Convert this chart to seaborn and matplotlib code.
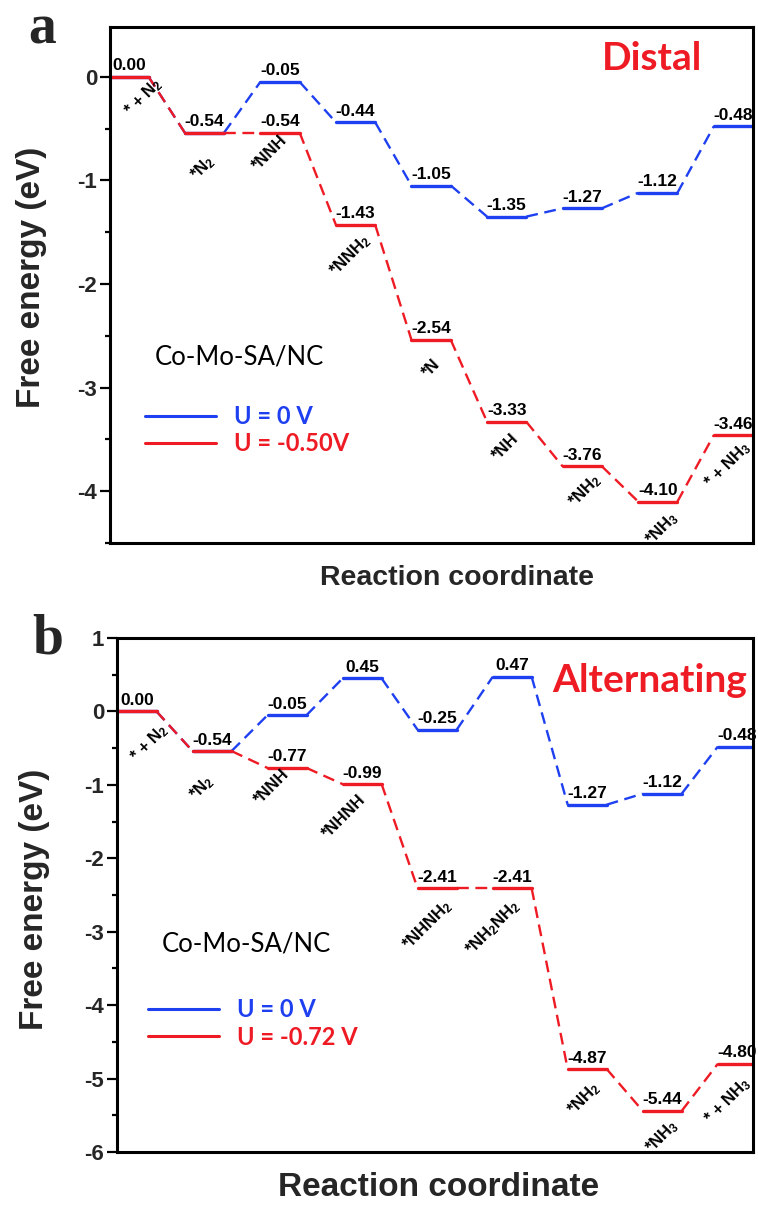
import numpy as np
import pandas as pd
import matplotlib
matplotlib.use("Agg")
import matplotlib.pyplot as plt
import seaborn as sns
from matplotlib.lines import Line2D
from matplotlib.ticker import MultipleLocator
from matplotlib.font_manager import FontProperties

# ---------------- data ----------------
distal_steps = ["* + N$_2$", "*N$_2$", "*NNH", "*NNH$_2$", "*N", "*NH",
                "*NH$_2$", "*NH$_3$", "* + NH$_3$"]
distal_u0 = [0.00, -0.54, -0.05, -0.44, -1.05, -1.35, -1.27, -1.12, -0.48]
distal_ul = [0.00, -0.54, -0.54, -1.43, -2.54, -3.33, -3.76, -4.10, -3.46]
distal_series = ["U = 0 V", "U = -0.50V"]

alt_steps = ["* + N$_2$", "*N$_2$", "*NNH", "*NHNH", "*NHNH$_2$",
             "*NH$_2$NH$_2$", "*NH$_2$", "*NH$_3$", "* + NH$_3$"]
alt_u0 = [0.00, -0.54, -0.05, 0.45, -0.25, 0.47, -1.27, -1.12, -0.48]
alt_ul = [0.00, -0.54, -0.77, -0.99, -2.41, -2.41, -4.87, -5.44, -4.80]
alt_series = ["U = 0 V", "U = -0.72 V"]

distal_ticks = [0, -1, -2, -3, -4]
alt_ticks = [1, 0, -1, -2, -3, -4, -5, -6]

BLUE = "#1e40f0"
RED = "#ee1b24"

# ---------------- style ----------------
sns.set_theme(style="ticks")
plt.rcParams["font.family"] = ["Liberation Sans", "DejaVu Sans"]
plt.rcParams["axes.unicode_minus"] = False
plt.rcParams["mathtext.default"] = "regular"

HW = 0.26
PX = 0.72  # points per pixel at dpi 100


def build_frames(values, series):
    lv, cn = [], []
    for i, v in enumerate(values):
        lv.append(dict(x=i - HW, G=v, series=series, seg=f"L{i}"))
        lv.append(dict(x=i + HW, G=v, series=series, seg=f"L{i}"))
        if i + 1 < len(values):
            cn.append(dict(x=i + HW, G=v, series=series, seg=f"C{i}"))
            cn.append(dict(x=i + 1 - HW, G=values[i + 1], series=series, seg=f"C{i}"))
    return lv, cn


def draw_panel(ax, steps, u0, ul, names, yticks, ylim, xlim, title, title_xy,
               name_xy, leg_xy, lab_off, xlabel_size, xlabel_x, ylabel_xy, xlabel_y):
    lv0, cn0 = build_frames(u0, names[0])
    lv1, cn1 = build_frames(ul, names[1])
    levels = pd.DataFrame(lv0 + lv1)
    conns = pd.DataFrame(cn0 + cn1)
    pal = {names[0]: BLUE, names[1]: RED}
    sns.lineplot(data=conns, x="x", y="G", hue="series", units="seg",
                 estimator=None, sort=False, palette=pal, hue_order=names,
                 lw=1.7, linestyle=(0, (5, 2.8)), legend=False, ax=ax)
    sns.lineplot(data=levels, x="x", y="G", hue="series", units="seg",
                 estimator=None, sort=False, palette=pal, hue_order=names,
                 lw=2.4, legend=False, ax=ax)

    # value labels
    for i, (a, b) in enumerate(zip(u0, ul)):
        vals = [b] if abs(a - b) < 1e-9 or i < 2 else [a, b]
        for v in vals:
            ax.annotate(f"{v:.2f}", xy=(i, v), xytext=(0, 2.5),
                        textcoords="offset points", ha="center", va="bottom",
                        fontsize=12.5, fontweight="bold", color="black")
    # species labels
    for i, (s, v) in enumerate(zip(steps, ul)):
        dx, dy = lab_off[i]
        ax.annotate(s, xy=(i + HW, v), xytext=(dx * PX, dy * PX),
                    textcoords="offset points", rotation=45,
                    rotation_mode="anchor", ha="right", va="top",
                    fontsize=12, fontweight="bold", color="black",
                    annotation_clip=False)

    ax.set_xlim(*xlim)
    ax.set_ylim(*ylim)
    ax.set_xticks([])
    ax.set_yticks(yticks)
    ax.yaxis.set_minor_locator(MultipleLocator(0.5))
    ax.tick_params(axis="y", which="major", direction="out", length=7.2,
                   width=1.6, pad=2, labelsize=16, color="black")
    ax.tick_params(axis="y", which="minor", direction="out", length=3.6,
                   width=1.6, color="black")
    for lab in ax.get_yticklabels():
        lab.set_fontweight("bold")
    for sp in ax.spines.values():
        sp.set_visible(True)
        sp.set_linewidth(2.2)
        sp.set_color("black")
    ax.set_xlabel("Reaction coordinate", fontsize=xlabel_size, fontweight="bold")
    ax.xaxis.set_label_coords(xlabel_x, xlabel_y)
    ax.set_ylabel("Free energy (eV)", fontsize=24, fontweight="bold")
    ax.yaxis.set_label_coords(*ylabel_xy)

    ax.text(title_xy[0], title_xy[1], title, transform=ax.transAxes,
            ha="right", va="baseline", color=RED, fontsize=28,
            fontweight="bold", family=["Lato", "DejaVu Sans"])
    ax.text(name_xy[0], name_xy[1], "Co-Mo-SA/NC", transform=ax.transAxes,
            ha="left", va="center", color="black", fontsize=18.5,
            family=["Lato", "DejaVu Sans"])
    handles = [Line2D([], [], color=BLUE, lw=2.2), Line2D([], [], color=RED, lw=2.2)]
    ax.legend(handles, names, loc="center left", bbox_to_anchor=leg_xy,
              frameon=False, prop=FontProperties(family="Lato", weight="bold", size=17),
              handlelength=3.0, handletextpad=0.75, labelspacing=0.18,
              borderpad=0, borderaxespad=0, labelcolor="linecolor")


fig = plt.figure(figsize=(7.58, 12.05), dpi=100)
W, H = 758, 1205
ax1 = fig.add_axes([110 / W, 1 - 543 / H, 643 / W, 516 / H])
ax2 = fig.add_axes([117 / W, 1 - 1152 / H, 636 / W, 514 / H])

off_a = [(4, 2), (-18, -19), (-20, 0), (-14, -6), (-18, -17), (-15, -9),
         (-10, -4), (-8, -7), (-11, -3)]
off_b = [(2, -9), (-27, -21), (-25, 2), (-24, -8), (-14, -8), (-21, -8),
         (-16, -9), (-13, -5), (-15, -10)]

draw_panel(ax1, distal_steps, distal_u0, distal_ul, distal_series,
           distal_ticks, (-4.5, 0.48), (-0.25, 8.26), "Distal", (0.921, 0.917),
           (0.070, 0.3605), (0.0544, 0.219), off_a, 20.5, 0.540, (-0.098, 0.515), -0.042)
draw_panel(ax2, alt_steps, alt_u0, alt_ul, alt_series,
           alt_ticks, (-6, 1), (-0.267, 8.21), "Alternating", (0.9906, 0.895),
           (0.0708, 0.405), (0.049, 0.25), off_b, 24, 0.505, (-0.105, 0.492), -0.039)

fig.text(28 / W, 1 - 43 / H, "a", family="Liberation Serif", fontweight="bold",
         fontsize=40, ha="left", va="baseline")
fig.text(32 / W, 1 - 653 / H, "b", family="Liberation Serif", fontweight="bold",
         fontsize=40, ha="left", va="baseline")

fig.savefig("out.png", dpi=100, facecolor="white")
